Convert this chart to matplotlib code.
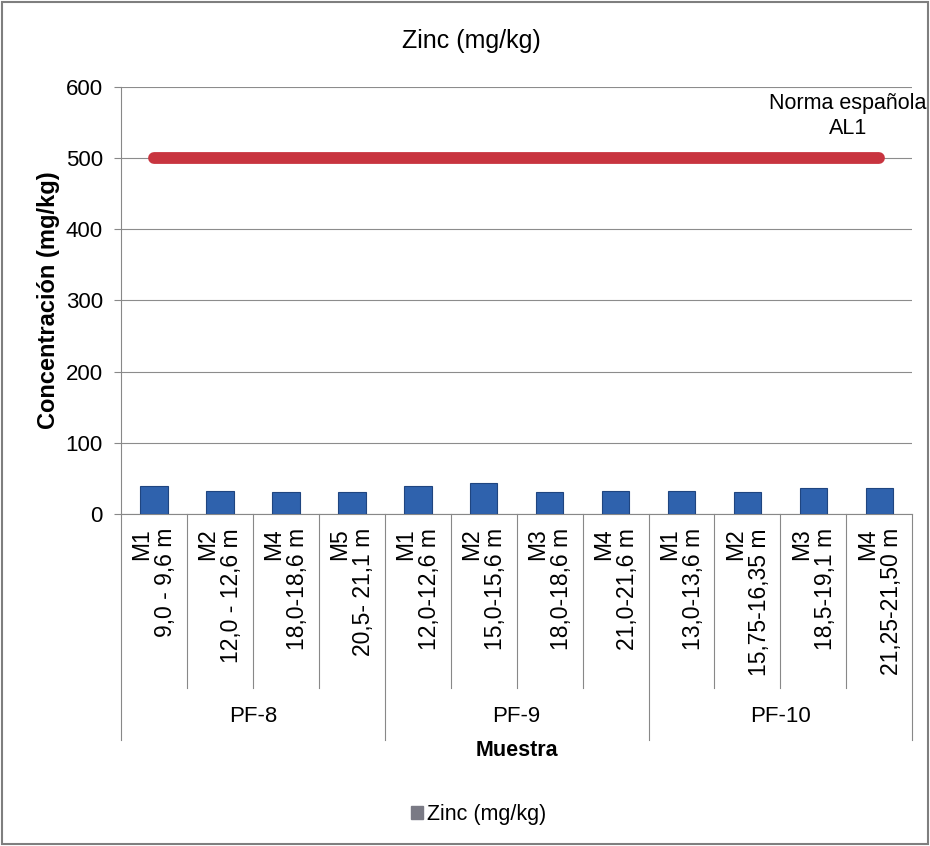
import matplotlib.pyplot as plt
import matplotlib.patches as mpatches
import numpy as np

plt.rcParams['font.family'] = ['Liberation Sans', 'DejaVu Sans']

# data
groups = ['PF-8', 'PF-9', 'PF-10']
group_sizes = [4, 4, 4]
labels = ['M1\n9,0 - 9,6 m', 'M2\n12,0 - 12,6 m', 'M4\n18,0-18,6 m', 'M5\n20,5- 21,1 m',
          'M1\n12,0-12,6 m', 'M2\n15,0-15,6 m', 'M3\n18,0-18,6 m', 'M4\n21,0-21,6 m',
          'M1\n13,0-13,6 m', 'M2\n15,75-16,35 m', 'M3\n18,5-19,1 m', 'M4\n21,25-21,50 m']
zinc = [39, 33, 31, 31, 40, 43, 31, 33, 33, 31, 36, 36]
norma = [500] * 12

fig = plt.figure(figsize=(9.3, 8.46), dpi=100)
ax = fig.add_axes([0.130, 0.3924, 0.851, 0.5048])

x = np.arange(len(zinc))
ax.bar(x, zinc, width=0.42, color='#2f62ad', edgecolor='#1f4580', lw=0.8, zorder=3)
ax.plot(x, norma, color='#c8343f', lw=8.5, solid_capstyle='round', zorder=4)

ax.set_xlim(-0.5, len(zinc) - 0.5)
ax.set_ylim(0, 600)
ax.set_yticks(range(0, 601, 100))
ax.tick_params(axis='y', labelsize=16, length=5, pad=8, color='#888888')
ax.yaxis.grid(True, color='#8c8c8c', lw=0.8)
ax.set_axisbelow(True)
for s in ['top', 'right']:
    ax.spines[s].set_visible(False)
ax.spines['left'].set_color('#888888')
ax.spines['bottom'].set_color('#888888')

ax.set_xticks(x)
ax.set_xticklabels([])
ax.tick_params(axis='x', length=0)
for i, lab in enumerate(labels):
    ax.text(i, -0.033, lab, transform=ax.get_xaxis_transform(), rotation=90,
            ha='center', va='top', multialignment='right', fontsize=16.5,
            linespacing=1.05)

# separators under the axis
trans = ax.get_xaxis_transform()
edges = np.cumsum([0] + group_sizes) - 0.5
for b in np.arange(-0.5, len(zinc)):
    low = -0.529 if b in edges else -0.407
    ax.plot([b, b], [0, low], transform=trans, color='#888888', lw=0.8, clip_on=False)
start = 0
for g, n in zip(groups, group_sizes):
    ax.text(start + (n - 1) / 2, -0.475, g, transform=trans, ha='center', va='center',
            fontsize=16)
    start += n

ax.text(0.5, -0.553, 'Muestra', transform=ax.transAxes, ha='center', va='center',
        fontsize=15.5, fontweight='bold')
ax.set_ylabel('Concentración (mg/kg)', fontsize=17, fontweight='bold', labelpad=4)
fig.text(0.507, 0.952, 'Zinc (mg/kg)', ha='center', va='center', fontsize=18)
fig.text(0.912, 0.863, 'Norma española\nAL1', ha='center', va='center',
         multialignment='center', fontsize=15.5, linespacing=1.25)

# legend for the bar series
handle = mpatches.Patch(color='#7a7a85', label='Zinc (mg/kg)')
fig.legend(handles=[handle], loc='center', bbox_to_anchor=(0.515, 0.037), frameon=False,
           fontsize=15.5, handlelength=0.55, handleheight=0.55, handletextpad=0.2)

fig.patches.append(mpatches.Rectangle((0.002, 0.002), 0.996, 0.996, transform=fig.transFigure,
                                      fill=False, edgecolor='#7f7f7f', lw=1.5))

fig.savefig('out.png', dpi=100)
